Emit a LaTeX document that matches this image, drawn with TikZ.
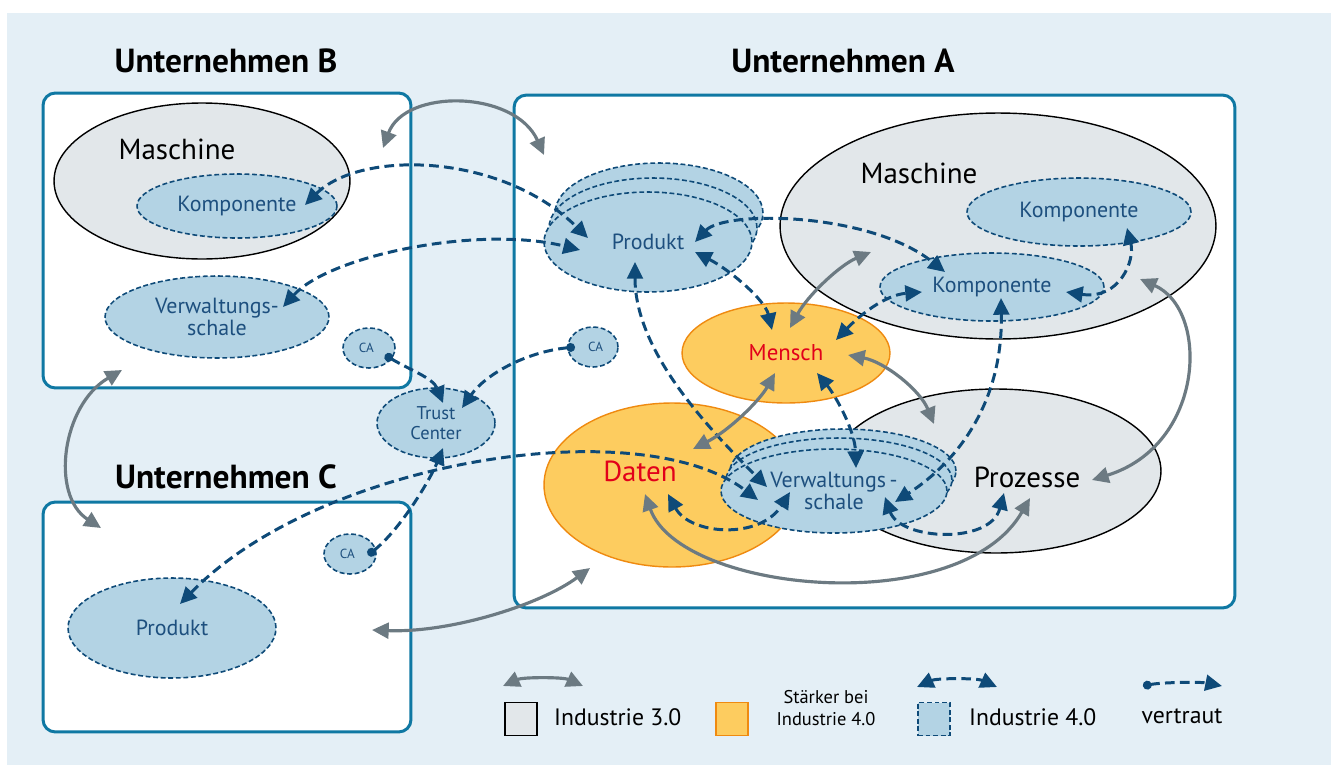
\documentclass[tikz,border=0pt]{standalone}
\usepackage{fontspec}
\setmainfont{PT Sans}
\usetikzlibrary{shapes.geometric,arrows.meta}

\definecolor{bgblue}{HTML}{E4EFF6}
\definecolor{frameblue}{HTML}{0F78A3}
\definecolor{machgray}{HTML}{E2E7EA}
\definecolor{ifourfill}{HTML}{B3D3E4}
\definecolor{ifourline}{HTML}{0E4A78}
\definecolor{ifourtext}{HTML}{1D4F7E}
\definecolor{humanfill}{HTML}{FDCC5F}
\definecolor{humanline}{HTML}{EF8A10}
\definecolor{alertred}{HTML}{E2001A}
\definecolor{arrowgray}{HTML}{6C7A82}

\tikzset{
  firm/.style={draw=frameblue, line width=1.7pt, rounded corners=7pt, fill=white},
  firmtitle/.style={font=\fontsize{19}{22}\selectfont\bfseries},
  ithree/.style={ellipse, draw=black, line width=0.8pt, fill=machgray, inner sep=0pt},
  ifour/.style={ellipse, draw=ifourline, line width=0.9pt, dash pattern=on 2.8pt off 1.5pt,
    fill=ifourfill, text=ifourtext, inner sep=0pt, align=center,
    font=\fontsize{12.5}{13}\selectfont},
  human/.style={ellipse, draw=humanline, line width=0.8pt, fill=humanfill, inner sep=0pt,
    text=alertred},
  biglabel/.style={font=\fontsize{16.5}{18}\selectfont},
  calabel/.style={ifour, minimum width=1.04cm, minimum height=0.8cm, font=\fontsize{7.5}{8}\selectfont},
  link/.style={ifourline, line width=1.7pt, dash pattern=on 5.5pt off 3pt,
    {Triangle[length=9.5pt,width=9pt]}-{Triangle[length=9.5pt,width=9pt]}},
  trusted/.style={ifourline, line width=1.7pt, dash pattern=on 5.5pt off 3pt,
    {Circle[length=5pt]}-{Triangle[length=9.5pt,width=9pt]}},
  oldlink/.style={arrowgray, line width=1.8pt,
    {Triangle[length=9.5pt,width=9pt]}-{Triangle[length=9.5pt,width=9pt]}},
  legtext/.style={font=\fontsize{13.5}{15}\selectfont},
}

\begin{document}
\begin{tikzpicture}[x=0.02cm,y=-0.02cm]
\useasboundingbox (0,0) rectangle (1336,765);
\fill[bgblue] (7,13) rectangle (1331,765);

% Unternehmen
\node[firm, minimum width=7.36cm, minimum height=5.9cm] (firmB) at (227,240.5) {};
\node[firm, minimum width=14.42cm, minimum height=10.26cm] (firmA) at (874.5,351.5) {};
\node[firm, minimum width=7.36cm, minimum height=4.6cm] (firmC) at (227,617) {};
\node[firmtitle] (titleB) at (226,61) {Unternehmen B};
\node[firmtitle] (titleA) at (843,61) {Unternehmen A};
\node[firmtitle] (titleC) at (226,477) {Unternehmen C};

% Unternehmen B
\node[ithree, minimum width=5.92cm, minimum height=3.12cm] (bmasch) at (202,181) {};
\node[biglabel] (bmaschlbl) at (177,149) {Maschine};
\node[ifour, minimum width=4cm, minimum height=1.28cm] (bkomp) at (237,206) {Komponente};
\node[ifour, minimum width=4.48cm, minimum height=1.64cm] (bvws) at (217,317) {Verwaltungs-\\schale};
\node[calabel] (bca) at (369,348) {CA\hspace{3pt}};

% Mitte
\node[ifour, minimum width=2.36cm, minimum height=1.4cm, font=\fontsize{10.5}{11}\selectfont] (trust) at (436,423) {Trust\\Center};
\node[calabel, minimum width=1cm] (aca) at (593,347) {\hspace{3pt}CA};

% Unternehmen C
\node[calabel] (cca) at (350,554) {CA\hspace{3pt}};
\node[ifour, minimum width=4.16cm, minimum height=2cm] (cprod) at (172,628) {Produkt};

% Unternehmen A
\node[ithree, minimum width=8.72cm, minimum height=4.52cm] (amasch) at (998,226) {};
\node[biglabel] (amaschlbl) at (919,173) {Maschine};
\node[ifour, minimum width=4.48cm, minimum height=1.36cm] (akomptop) at (1079,212) {Komponente};
\node[ifour, minimum width=4.48cm, minimum height=1.36cm] (akomp) at (992,287) {Komponente};
\node[ithree, minimum width=6.6cm, minimum height=3.28cm] (prozesse) at (996,471) {};
\node[biglabel] (prozlbl) at (1027,477) {Prozesse};
\node[human, minimum width=5.12cm, minimum height=3.28cm] (daten) at (672,485) {};
\node[biglabel, text=alertred] (datenlbl) at (640,471) {Daten};
\node[ifour, minimum width=4.52cm, minimum height=1.68cm] (avwsback) at (843,471) {};
\node[ifour, minimum width=4.52cm, minimum height=1.68cm] (avwsmid) at (839,480) {};
\node[ifour, minimum width=4.52cm, minimum height=1.68cm] (avws) at (834,491) {Verwaltungs\,-\\schale};
\node[human, minimum width=4.16cm, minimum height=2cm, font=\fontsize{13}{14}\selectfont] (mensch) at (786,353) {Mensch};
\node[ifour, minimum width=4.16cm, minimum height=2cm] (aprodback) at (659,213) {};
\node[ifour, minimum width=4.16cm, minimum height=2cm] (aprodmid) at (653,228) {};
\node[ifour, minimum width=4.16cm, minimum height=2cm] (aprod) at (648,242) {Produkt};

% Industrie 4.0
\draw[link] ([shift={(68,-1)}]bkomp.center) .. controls +(55,-55) and +(-88,-86) .. ([shift={(-60,-4)}]aprod.center);
\draw[link] ([shift={(66,-10)}]bvws.center) .. controls +(47,-52) and +(-100,-25) .. ([shift={(-68,8)}]aprod.center);
\draw[link] ([shift={(47,0)}]aprod.center) .. controls +(30,-32) and +(-75,-60) .. ([shift={(-47,-15)}]akomp.center);
\draw[link] ([shift={(47,10)}]aprod.center) .. controls +(35,18) and +(-7,-30) .. ([shift={(-14,-23)}]mensch.center);
\draw[link] ([shift={(50,-13)}]mensch.center) .. controls +(24,-25) and +(-37,3) .. ([shift={(-70,5)}]akomp.center);
\draw[link] ([shift={(74,5)}]akomp.center) .. controls +(54,8) and +(8,32) .. ([shift={(48,16)}]akomptop.center);
\draw[link] ([shift={(-13,20)}]aprod.center) .. controls +(0,88) and +(-62,-62) .. ([shift={(-67,-4)}]avws.center);
\draw[link] ([shift={(8,-24)}]cprod.center) .. controls +(140,-144) and +(-118,-90) .. ([shift={(-76,9)}]avws.center);
\draw[link] ([shift={(-4,9)}]daten.center) .. controls +(22,41) and +(-30,48) .. ([shift={(-44,1)}]avws.center);
\draw[link] ([shift={(31,20)}]mensch.center) .. controls +(18,22) and +(-1,-38) .. ([shift={(22,-23)}]avws.center);
\draw[link] ([shift={(9,11)}]akomp.center) .. controls +(2,102) and +(65,-42) .. ([shift={(61,11)}]avws.center);
\draw[link] ([shift={(51,6)}]avws.center) .. controls +(15,43) and +(-14,52) .. ([shift={(8,22)}]prozesse.center);

% vertraut
\draw[trusted] ([shift={(16,7)}]bca.center) .. controls +(25,15) and +(-10,-25) .. ([shift={(7,-20)}]trust.center);
\draw[trusted] ([shift={(-18,0)}]aca.center) .. controls +(-50,5) and +(23,-33) .. ([shift={(26,-15)}]trust.center);
\draw[trusted] ([shift={(18,1)}]cca.center) .. controls +(32,-25) and +(-13,32) .. ([shift={(7,25)}]trust.center);

% Industrie 3.0
\draw[oldlink] ([shift={(156,-92.5)}]firmB.center) .. controls +(22,-60) and +(-29,-65) .. ([shift={(-330.5,-196.5)}]firmA.center);
\draw[oldlink] ([shift={(-105,129.5)}]firmB.center) .. controls +(-60,35) and +(-51,-33) .. ([shift={(-126,-89)}]firmC.center);
\draw[oldlink] ([shift={(145,13)}]firmC.center) .. controls +(78,3) and +(-50,37) .. ([shift={(-284.5,216.5)}]firmA.center);
\draw[oldlink] ([shift={(4,-25)}]mensch.center) .. controls +(18,-33) and +(-31,13) .. ([shift={(-127,26)}]amasch.center);
\draw[oldlink] ([shift={(-11,20)}]mensch.center) .. controls +(-15,27) and +(37,-19) .. ([shift={(21,-36)}]daten.center);
\draw[oldlink] ([shift={(62,2)}]mensch.center) .. controls +(37,7) and +(-14,-34) .. ([shift={(-62,-47)}]prozesse.center);
\draw[oldlink] ([shift={(142,53)}]amasch.center) .. controls +(70,31) and +(113,-35) .. ([shift={(96,9)}]prozesse.center);
\draw[oldlink] ([shift={(-27,9)}]daten.center) .. controls +(35,99) and +(-70,122) .. ([shift={(34,27)}]prozesse.center);

% Legende
\coordinate (legoldA) at (503,686);
\coordinate (legoldB) at (583,686);
\draw[oldlink] (legoldA) .. controls +(20,-9) and +(-20,-9) .. (legoldB);
\node[draw=black, line width=1pt, fill=machgray, minimum width=0.64cm, minimum height=0.66cm] (legold) at (521,719) {};
\node[legtext, anchor=west] (legoldlbl) at (548,717) {Industrie 3.0};

\node[draw=humanline, line width=1pt, fill=humanfill, minimum width=0.64cm, minimum height=0.66cm] (leghum) at (732,719) {};
\node[align=center, font=\fontsize{10.5}{12}\selectfont] (leghumlbl) at (826,708) {Stärker bei\\Industrie 4.0};

\coordinate (legnewA) at (917,687);
\coordinate (legnewB) at (997,687);
\draw[link] (legnewA) .. controls +(20,-9) and +(-20,-9) .. (legnewB);
\node[draw=ifourline, line width=0.9pt, dash pattern=on 2.8pt off 1.5pt, fill=ifourfill, minimum width=0.64cm, minimum height=0.66cm] (legnew) at (934,719) {};
\node[legtext, anchor=west] (legnewlbl) at (963,717) {Industrie 4.0};

\coordinate (legtrustA) at (1143,686);
\coordinate (legtrustB) at (1222,686);
\draw[trusted] (legtrustA) .. controls +(20,-4) and +(-20,-4) .. (legtrustB);
\node[legtext] (legtrustlbl) at (1182,716) {vertraut};
\end{tikzpicture}
\end{document}
